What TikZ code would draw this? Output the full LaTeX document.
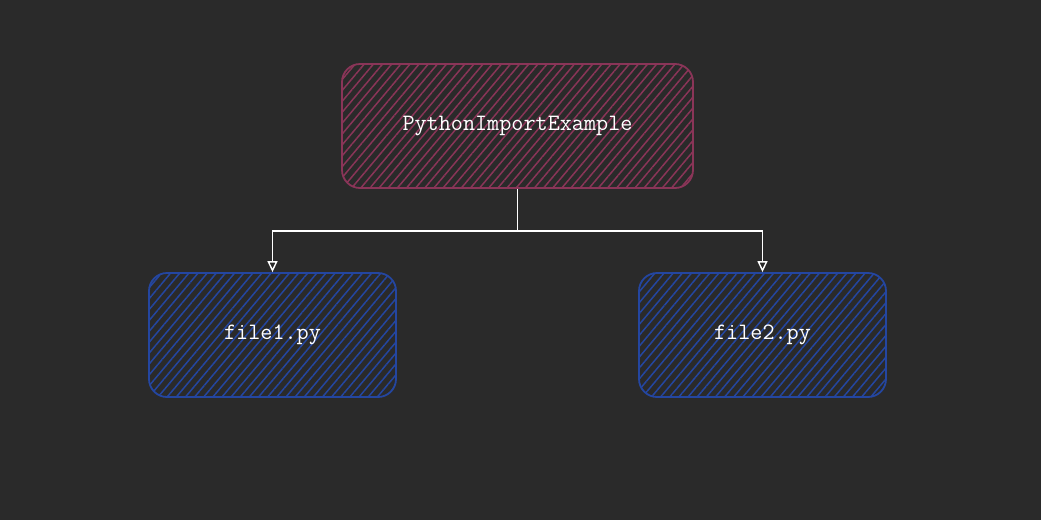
\documentclass[tikz,border=0pt]{standalone}
\usetikzlibrary{patterns.meta,arrows.meta}
\definecolor{bg}{HTML}{2A2A2A}
\definecolor{pinkc}{HTML}{8A3558}
\definecolor{bluec}{HTML}{2446A0}
\tikzset{
  box/.style={rounded corners=18pt, line width=1.8pt, inner sep=0pt,
    font=\ttfamily\fontsize{23.5}{28}\selectfont, text=white},
  topbox/.style={box, draw=pinkc, minimum width=351pt, minimum height=124pt,
    pattern={Lines[angle=50,distance=7pt,line width=1.5pt]}, pattern color=pinkc},
  filebox/.style={box, draw=bluec, minimum width=247pt, minimum height=124pt,
    pattern={Lines[angle=50,distance=7pt,line width=1.5pt]}, pattern color=bluec},
  conn/.style={draw=white, line width=1.4pt, -{Triangle[open,length=11pt,width=10pt]}}
}
\begin{document}
\begin{tikzpicture}[x=1pt,y=-1pt]
\fill[bg] (0,0) rectangle (1041,520);
\useasboundingbox (0,0) rectangle (1041,520);
\node[topbox] (top) at (517.5,126) {PythonImportExample};
\node[filebox] (f1) at (272.5,335) {file1.py};
\node[filebox] (f2) at (762.5,335) {file2.py};
\coordinate (mid) at (517.5,231);
\draw[conn] (top.south) -- (mid) -| (f1.north);
\draw[conn] (mid) -| (f2.north);
\end{tikzpicture}
\end{document}
